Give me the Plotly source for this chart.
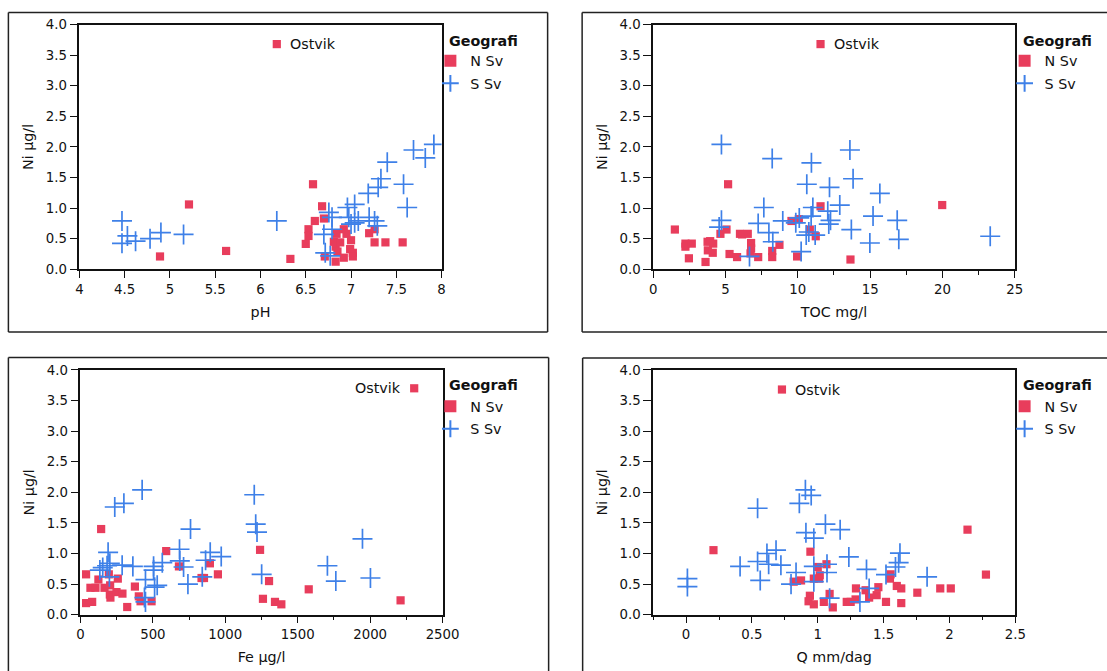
import plotly.graph_objects as go

# Page is rendered with a small constant scale/offset; positions below are given in
# target-picture pixels and converted into figure pixels with this measured mapping.
SX, SY = 0.981, 0.977
AX, AY = 3.6, 6.5
W, H = 1129, 687

# ---------------- data ----------------
# Panel 1: pH
ph_n = [5.21, 4.89, 5.62, 6.33, 6.58, 6.68, 6.70, 6.60, 6.53, 6.53, 6.50, 6.71, 6.81, 6.84, 6.83, 6.85,
        6.83, 6.88, 6.92, 6.95, 6.92, 7.00, 6.99, 7.02, 7.02, 7.20, 7.26, 7.26, 7.38, 7.57, 6.18]
ni_ph_n = [1.06, 0.21, 0.30, 0.17, 1.39, 1.03, 0.83, 0.79, 0.655, 0.545, 0.415, 0.21, 0.45, 0.58, 0.37, 0.29,
           0.125, 0.44, 0.655, 0.58, 0.19, 0.475, 0.33, 0.27, 0.21, 0.59, 0.655, 0.44, 0.44, 0.44, 3.68]
ph_s = [4.47, 4.47, 4.53, 4.62, 4.78, 4.90, 5.15, 6.18, 6.70, 6.715, 6.77, 6.755, 6.79, 6.79, 6.96, 7.04,
        6.975, 7.00, 7.04, 7.08, 7.19, 7.20, 7.26, 7.30, 7.33, 7.40, 7.58, 7.62, 7.69, 7.82, 7.915, 7.29]
ni_ph_s = [0.79, 0.425, 0.545, 0.46, 0.50, 0.60, 0.57, 0.79, 0.57, 0.27, 0.22, 0.93, 0.85, 0.655, 1.01, 1.06,
           0.85, 0.74, 0.76, 0.79, 1.24, 0.85, 0.79, 1.34, 1.48, 1.75, 1.39, 1.01, 1.95, 1.82, 2.04, 0.71]

# Panel 2: TOC
toc_n = [1.5, 2.23, 2.23, 2.67, 2.47, 3.62, 3.76, 3.94, 4.15, 3.78, 4.12, 4.65, 5.07, 5.18, 5.28, 5.8, 6.0,
         6.15, 6.54, 6.77, 6.77, 6.73, 7.26, 8.23, 8.23, 8.73, 9.56, 10.07, 9.95, 10.83, 11.24, 11.57, 13.64,
         19.98, 11.57]
ni_toc_n = [0.65, 0.42, 0.37, 0.42, 0.18, 0.12, 0.45, 0.46, 0.42, 0.31, 0.27, 0.58, 0.65, 1.39, 0.25, 0.20,
            0.58, 0.57, 0.58, 0.43, 0.34, 0.26, 0.20, 0.30, 0.20, 0.40, 0.79, 0.82, 0.21, 0.65, 0.54, 1.03,
            0.16, 1.05, 3.68]
toc_s = [4.72, 4.72, 4.56, 6.66, 7.65, 7.26, 8.0, 8.27, 8.23, 8.96, 9.86, 10.1, 10.23, 10.58, 10.76, 10.92,
         11.04, 10.62, 10.94, 11.2, 12.07, 12.14, 12.26, 12.19, 12.9, 13.6, 13.82, 13.7, 15.2, 14.98, 15.67,
         16.87, 16.98, 23.3]
ni_toc_s = [2.04, 0.80, 0.69, 0.21, 1.01, 0.75, 0.60, 0.45, 1.81, 0.79, 0.76, 0.84, 0.29, 0.56, 0.61, 0.87,
            1.01, 1.39, 1.74, 0.56, 0.95, 0.74, 0.80, 1.34, 1.05, 1.95, 1.48, 0.65, 0.87, 0.43, 1.24, 0.80,
            0.49, 0.54]

# Panel 3: Fe
fe_n = [39, 39, 81, 69, 104, 124, 143, 166, 196, 205, 203, 207, 258, 249, 290, 323, 376, 403, 415, 491, 592,
        680, 836, 853, 894, 949, 1240, 1260, 1302, 1343, 1387, 1576, 2210, 2304]
ni_fe_n = [0.66, 0.19, 0.21, 0.44, 0.44, 0.575, 1.40, 0.44, 0.66, 0.48, 0.33, 0.28, 0.59, 0.37, 0.345, 0.126,
           0.46, 0.30, 0.22, 0.22, 1.04, 0.79, 0.60, 0.60, 0.84, 0.66, 1.06, 0.26, 0.55, 0.21, 0.17, 0.415,
           0.235, 3.70]
fe_s = [134, 154, 184, 191, 203, 200, 237, 300, 288, 362, 426, 449, 442, 449, 505, 505, 512, 530, 565, 684,
        686, 712, 760, 742, 841, 864, 896, 972, 1200, 1210, 1219, 1251, 1705, 1763, 1947, 2002]
ni_fe_s = [0.73, 0.77, 0.80, 1.02, 0.84, 0.62, 1.76, 1.82, 0.81, 0.79, 2.04, 0.575, 0.28, 0.21, 0.79, 0.73,
           0.45, 0.48, 0.85, 1.07, 0.88, 0.78, 1.40, 0.50, 0.62, 0.89, 1.02, 0.95, 1.96, 1.48, 1.35, 0.66,
           0.80, 0.55, 1.24, 0.60]

# Panel 4: Q
q_n = [0.208, 0.944, 0.817, 0.873, 0.94, 0.93, 0.97, 0.97, 1.0, 1.015, 1.01, 1.066, 1.046, 1.09, 1.114, 1.22,
       1.25, 1.29, 1.287, 1.363, 1.39, 1.46, 1.447, 1.518, 1.553, 1.548, 1.6, 1.634, 1.634, 1.756, 1.93, 2.01,
       2.137, 2.277, 0.728]
ni_q_n = [1.055, 1.03, 0.54, 0.56, 0.31, 0.22, 0.17, 0.59, 0.78, 0.645, 0.59, 0.825, 0.21, 0.34, 0.12, 0.21,
          0.21, 0.43, 0.25, 0.40, 0.28, 0.45, 0.32, 0.21, 0.66, 0.59, 0.47, 0.43, 0.19, 0.36, 0.43, 0.43,
          1.39, 0.656, 3.68]
q_s = [0.01, 0.01, 0.41, 0.543, 0.543, 0.563, 0.614, 0.627, 0.683, 0.72, 0.797, 0.835, 0.86, 0.906, 0.95,
       0.91, 0.97, 0.97, 0.97, 1.058, 1.07, 1.07, 1.09, 1.17, 1.236, 1.32, 1.37, 1.39, 1.518, 1.59, 1.614,
       1.624, 1.83]
ni_q_s = [0.59, 0.46, 0.79, 1.74, 0.87, 0.56, 1.00, 0.825, 1.055, 0.81, 0.50, 0.69, 1.82, 2.04, 1.95, 1.34,
          1.25, 0.79, 0.54, 1.48, 0.825, 0.69, 0.27, 1.39, 0.945, 0.21, 0.74, 0.43, 0.656, 0.78, 0.85, 1.005,
          0.62]

group_names = ["N Sv", "S Sv"]
legend_title = "Geografi"
label_name = "Ostvik"
y_title = "Ni µg/l"
x_titles = ["pH", "TOC mg/l", "Fe µg/l", "Q mm/dag"]

RED = "#E83D5C"
BLUE = "#3E80E8"
FONT = "DejaVu Sans, Verdana, sans-serif"
FS_TICK, FS_TEXT = 13.3, 14.3


def px(x):
    # picture pixel -> figure paper fraction
    return ((x - AX) / SX) / W


def py(y):
    return 1 - ((y - AY) / SY) / H


panels = [
    dict(xn=ph_n, yn=ni_ph_n, xs=ph_s, ys=ni_ph_s, rng=[4, 8], dtick=0.5, minor=None,
         dom_x=[79, 441], dom_y=[24, 268.5], lab="right", leg=(429.8, 44.4), gtitle=(446, 40)),
    dict(xn=toc_n, yn=ni_toc_n, xs=toc_s, ys=ni_toc_s, rng=[0, 25], dtick=5, minor=2.5,
         dom_x=[652.5, 1014], dom_y=[24, 268.5], lab="right", leg=(1003.8, 44.4), gtitle=(1020, 40)),
    dict(xn=fe_n, yn=ni_fe_n, xs=fe_s, ys=ni_fe_s, rng=[0, 2500], dtick=500, minor=250,
         dom_x=[80, 442], dom_y=[369, 613.5], lab="left", leg=(429.8, 389.4), gtitle=(446, 384)),
    dict(xn=q_n, yn=ni_q_n, xs=q_s, ys=ni_q_s, rng=[-0.25, 2.5], dtick=0.5, minor=0.25,
         dom_x=[652.5, 1014.5], dom_y=[369, 613.5], lab="right", leg=(1003.8, 389.4), gtitle=(1020, 384)),
]

fig = go.Figure()
layout = dict(
    width=W, height=H, margin=dict(l=0, r=0, t=0, b=0),
    paper_bgcolor="white", plot_bgcolor="white",
    font=dict(family=FONT, size=FS_TICK, color="#111"),
    annotations=[], shapes=[],
)

for i, p in enumerate(panels):
    k = "" if i == 0 else str(i + 1)
    xa, ya = "x" + k, "y" + k
    leg = "legend" + k
    fig.add_trace(go.Scatter(
        x=p["xn"], y=p["yn"], xaxis=xa, yaxis=ya, mode="markers", name=group_names[0],
        marker=dict(symbol="square", size=8.2, color=RED), legend=leg, legendgroup="n" + k,
        cliponaxis=False))
    fig.add_trace(go.Scatter(
        x=p["xs"], y=p["ys"], xaxis=xa, yaxis=ya, mode="markers", name=group_names[1],
        marker=dict(symbol="cross-thin", size=14.3, line=dict(color=BLUE, width=1.7), color=BLUE),
        legend=leg, legendgroup="s" + k))

    # label of the Ostvik point (last N Sv value)
    layout["annotations"].append(dict(
        text=label_name, x=p["xn"][-1], y=p["yn"][-1], xref=xa, yref=ya, showarrow=False,
        xanchor="left" if p["lab"] == "right" else "right", yanchor="middle",
        xshift=11 if p["lab"] == "right" else -11, font=dict(size=FS_TEXT, color="#111")))

    xaxis = dict(
        domain=[px(p["dom_x"][0]), px(p["dom_x"][1])], anchor=ya, range=p["rng"],
        dtick=p["dtick"], tick0=0, ticks="outside", ticklen=7, tickwidth=1.2, tickcolor="#111",
        showline=True, linecolor="#111", linewidth=1.5, mirror=True, showgrid=False, zeroline=False,
        tickfont=dict(size=FS_TICK), title=dict(text=x_titles[i], font=dict(size=FS_TEXT), standoff=11),
    )
    if p["minor"]:
        xaxis["minor"] = dict(dtick=p["minor"], tick0=0, ticks="outside", ticklen=4, tickcolor="#111",
                              tickwidth=1, showgrid=False)
    yaxis = dict(
        domain=[py(p["dom_y"][1]), py(p["dom_y"][0])], anchor=xa, range=[0, 4], dtick=0.5,
        tickformat=".1f", ticks="outside", ticklen=8, tickwidth=1.2, tickcolor="#111",
        showline=True, linecolor="#111", linewidth=1.5, mirror=True, showgrid=False, zeroline=False,
        tickfont=dict(size=FS_TICK), title=dict(text=y_title, font=dict(size=FS_TEXT), standoff=9),
    )
    layout["xaxis" + k] = xaxis
    layout["yaxis" + k] = yaxis
    layout[leg] = dict(
        x=px(p["leg"][0]), y=py(p["leg"][1]), xanchor="left", yanchor="top",
        bgcolor="rgba(0,0,0,0)", font=dict(size=FS_TEXT), tracegroupgap=1, itemsizing="constant",
    )
    layout["annotations"].append(dict(
        text="<b>" + legend_title + "</b>", x=px(p["gtitle"][0]), y=py(p["gtitle"][1]),
        xref="paper", yref="paper", xanchor="left", yanchor="middle", showarrow=False,
        font=dict(size=FS_TEXT, color="#111")))

# outer panel frames (only the visible edges)
frame_edges = [
    (8, 12, 547, 12), (8, 12, 8, 331), (547, 12, 547, 331), (8, 331, 547, 331),          # panel 1
    (581.5, 12, 1110, 12), (581.5, 12, 581.5, 331), (581.5, 331, 1110, 331),             # panel 2
    (8, 356.5, 548, 356.5), (8, 356.5, 8, 676), (548, 356.5, 548, 676),                  # panel 3
    (582, 357, 1110, 357), (582, 357, 582, 676),                                         # panel 4
]
for (x0, y0, x1, y1) in frame_edges:
    layout["shapes"].append(dict(type="line", xref="paper", yref="paper",
                                 x0=px(x0), x1=px(x1), y0=py(y0), y1=py(y1),
                                 line=dict(color="#222", width=1.5), layer="below"))

fig.update_layout(**layout)
fig.write_html("out.html", config={"displayModeBar": False},
               post_script="document.body.style.margin='0';document.body.style.overflow='hidden';")
